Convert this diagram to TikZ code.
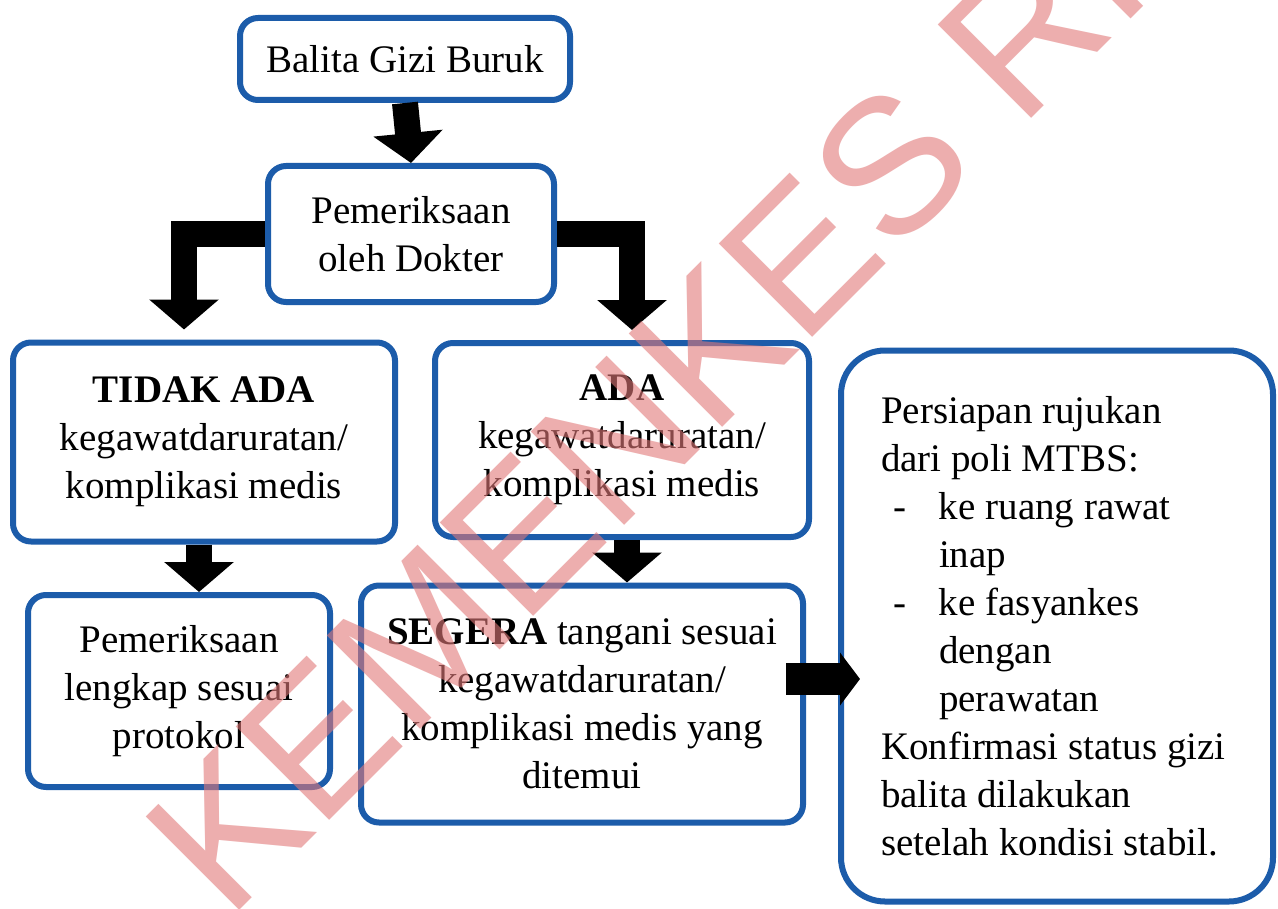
\documentclass[tikz,border=0pt]{standalone}
\usepackage{fontspec}
\setmainfont{Liberation Serif}
\newfontfamily\wmfont{Liberation Sans}
\usetikzlibrary{arrows.meta}
\definecolor{boxblue}{RGB}{28,92,170}
\definecolor{wmred}{RGB}{225,120,120}

\begin{document}
\begin{tikzpicture}[
    x=0.5pt, y=-0.5pt,
    font=\fontsize{19.5}{24}\selectfont,
    block/.style={rectangle, rounded corners=9pt, draw=boxblue, line width=3pt, fill=white, align=center, inner sep=4pt},
    barr/.style={line width=13pt, -{Triangle[width=34pt, length=15pt]}}
]
\useasboundingbox[fill=white] (0,0) rectangle (1278,909);

\node[block, minimum width=165pt, minimum height=41pt] (bgb) at (405,59) {Balita Gizi Buruk};
\node[block, minimum width=143pt, minimum height=68pt] (dok) at (411,234) {Pemeriksaan\\oleh Dokter};
\node[block, minimum width=191pt, minimum height=99.5pt] (tidak) at (204,442) {\textbf{TIDAK ADA}\\kegawatdaruratan/\\komplikasi medis};
\node[block, minimum width=187pt, minimum height=97pt] (ada) at (622,440) {\textbf{ADA}\\kegawatdaruratan/\\komplikasi medis};
\node[block, minimum width=151pt, minimum height=96pt] (lengkap) at (179,691) {Pemeriksaan\\lengkap sesuai\\protokol};
\node[block, minimum width=221pt, minimum height=118.5pt] (segera) at (582,704) {\textbf{SEGERA} tangani sesuai\\kegawatdaruratan/\\komplikasi medis yang\\ditemui};
\node[block, rounded corners=22pt, minimum width=216pt, minimum height=275.5pt, text width=176pt, align=flush left] (rujuk) at (1057,626) {Persiapan rujukan\\
dari poli MTBS:\\
\makebox[29pt][l]{\hspace*{6pt}-}ke ruang rawat\\
\hspace*{29pt}inap\\
\makebox[29pt][l]{\hspace*{6pt}-}ke fasyankes\\
\hspace*{29pt}dengan\\
\hspace*{29pt}perawatan\\
Konfirmasi status gizi\\
balita dilakukan\\
setelah kondisi stabil.};

\draw[barr] (bgb.south) -- (dok.north);
\draw[barr] (dok.west) -| ([xshift=-10pt,yshift=5pt]tidak.north);
\draw[barr] (dok.east) -| ([xshift=5pt,yshift=5pt]ada.north);
\draw[barr] ([xshift=-2.5pt]tidak.south) -- ([xshift=-2.5pt]tidak.south |- lengkap.north);
\draw[barr] ([xshift=2.5pt]ada.south) -- ([xshift=2.5pt]ada.south |- segera.north);
\draw[line width=16pt, -{Triangle[width=26pt, length=10pt]}] ([xshift=-10pt,yshift=12.5pt]segera.east) -- ([xshift=11pt,yshift=12.5pt]segera.east -| rujuk.west);

% watermark
\node[font=\wmfont\fontsize{96}{96}\selectfont, text=wmred, opacity=0.6, rotate=45, anchor=base west, inner sep=0pt] (wm) at (228,922) {KEMENKES RI};
\end{tikzpicture}
\end{document}
